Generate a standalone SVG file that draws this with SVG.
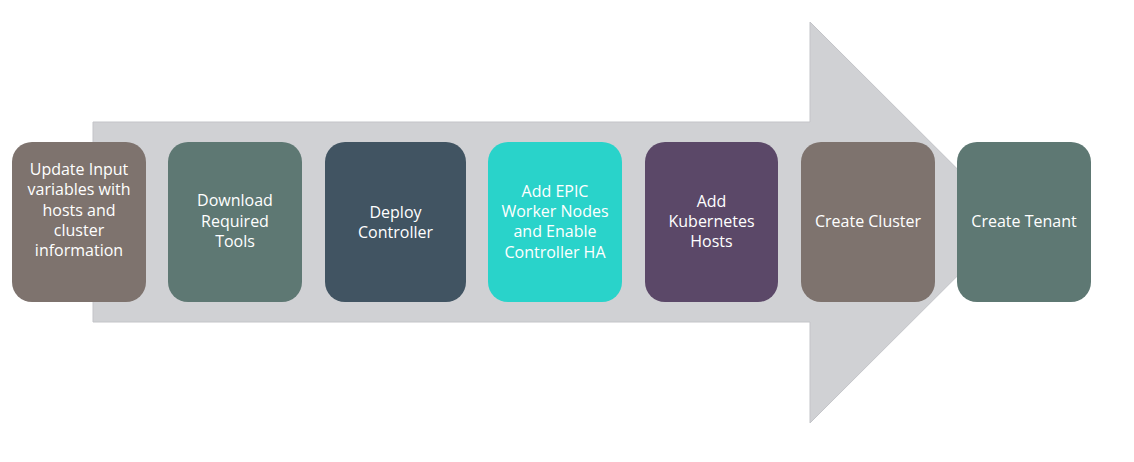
<svg xmlns="http://www.w3.org/2000/svg" width="1134" height="462" viewBox="0 0 1134 462">
<style>
.bg{fill:#ffffff}
.arrow{fill:#d0d1d4;stroke:#c3c4c8;stroke-width:1}
.box{stroke:none}
.lbl{font-family:"Open Sans","Noto Sans","Liberation Sans",sans-serif;font-size:16px;fill:#ffffff;text-anchor:middle}
</style>
<rect class="bg" x="0" y="0" width="1134" height="462"/>
<g id="connectors">
<polygon id="flow-arrow" class="arrow" points="93,122 810,122 810,22 1011,222.5 810,423 810,322 93,322"/>
</g>
<g id="node-update">
<rect class="box" x="12" y="142" width="134" height="160" rx="20" fill="#7e736e"/>
<text class="lbl" x="79" y="175">Update Input</text>
<text class="lbl" x="79" y="195.3">variables with</text>
<text class="lbl" x="79" y="215.6">hosts and</text>
<text class="lbl" x="79" y="235.9">cluster</text>
<text class="lbl" x="79" y="256.2">information</text>
</g>
<g id="node-download">
<rect class="box" x="168" y="142" width="134" height="160" rx="20" fill="#5e7873"/>
<text class="lbl" x="235" y="206.3">Download</text>
<text class="lbl" x="235" y="226.8">Required</text>
<text class="lbl" x="235" y="247.2">Tools</text>
</g>
<g id="node-deploy">
<rect class="box" x="325" y="142" width="141" height="160" rx="20" fill="#415462"/>
<text class="lbl" x="395.5" y="217.6">Deploy</text>
<text class="lbl" x="395.5" y="238">Controller</text>
</g>
<g id="node-epic">
<rect class="box" x="488" y="142" width="134" height="160" rx="20" fill="#29d3ca"/>
<text class="lbl" x="555" y="196.5">Add EPIC</text>
<text class="lbl" x="555" y="216.9">Worker Nodes</text>
<text class="lbl" x="555" y="237.2">and Enable</text>
<text class="lbl" x="555" y="257.5">Controller HA</text>
</g>
<g id="node-k8s">
<rect class="box" x="645" y="142" width="133" height="160" rx="20" fill="#5b4868"/>
<text class="lbl" x="711.5" y="206.5">Add</text>
<text class="lbl" x="711.5" y="227">Kubernetes</text>
<text class="lbl" x="711.5" y="247.4">Hosts</text>
</g>
<g id="node-cluster">
<rect class="box" x="801" y="142" width="134" height="160" rx="20" fill="#7e736e"/>
<text class="lbl" x="868" y="227.3">Create Cluster</text>
</g>
<g id="node-tenant">
<rect class="box" x="957" y="142" width="134" height="160" rx="20" fill="#5e7873"/>
<text class="lbl" x="1024" y="227.3">Create Tenant</text>
</g>
</svg>
